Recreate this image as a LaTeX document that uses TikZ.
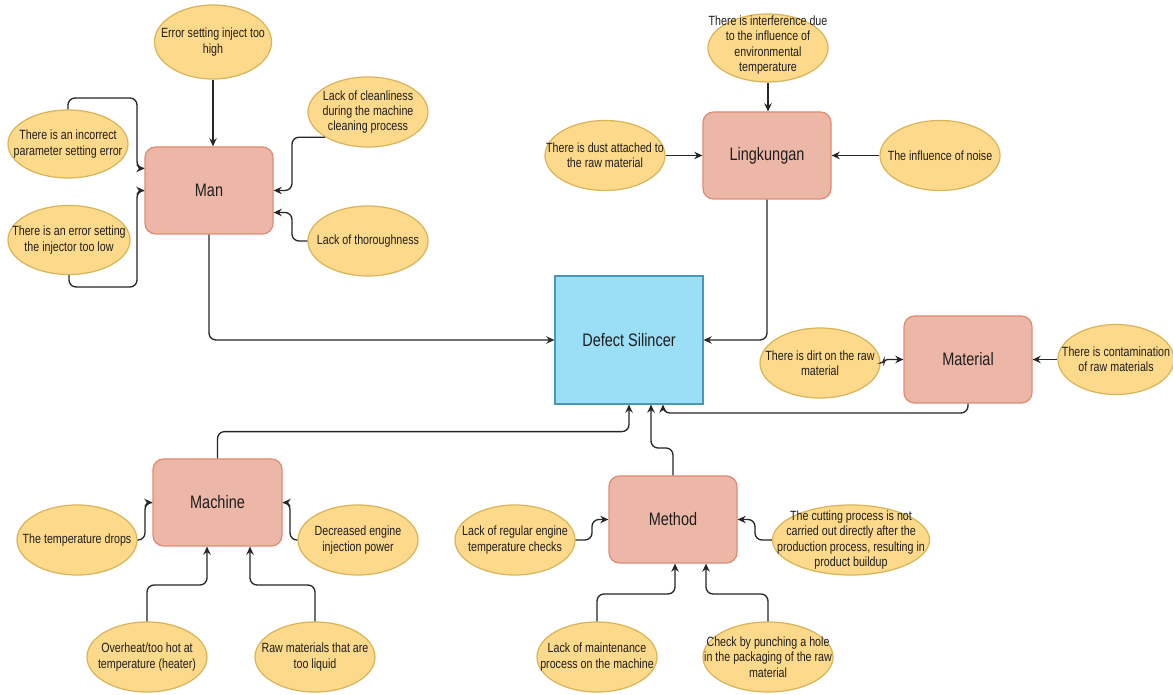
\documentclass[tikz,border=0pt]{standalone}
\usepackage{fontspec}
\setmainfont{Liberation Sans}[FakeStretch=0.8]
\usetikzlibrary{shapes.geometric,arrows.meta}
\newdimen\px \px=0.02cm
\definecolor{boxfill}{HTML}{EDB7A7}
\definecolor{boxdraw}{HTML}{DE8B76}
\definecolor{ellfill}{HTML}{FDD98B}
\definecolor{elldraw}{HTML}{D9B558}
\definecolor{deffill}{HTML}{9ADFF6}
\definecolor{defdraw}{HTML}{4A97BD}
\definecolor{txt}{HTML}{1E1E1E}
\tikzset{
  catbox/.style={draw=boxdraw,fill=boxfill,line width=0.7pt,rounded corners=6pt,
    minimum width=128\px,minimum height=87\px,inner sep=0pt,
    font=\fontsize{10.3}{12}\selectfont,text=txt},
  defbox/.style={draw=defdraw,fill=deffill,line width=0.7pt,
    minimum width=148\px,minimum height=128\px,inner sep=0pt,
    font=\fontsize{10.3}{12}\selectfont,text=txt},
  ell/.style={ellipse,draw=elldraw,fill=ellfill,line width=0.7pt,
    minimum width=120\px,minimum height=70\px,inner sep=0pt},
  etxt/.style={align=center,inner sep=0pt,text=txt,
    font=\fontsize{7.6}{8.7}\selectfont},
  arr/.style={draw=black!85,line width=0.75pt,rounded corners=4pt,
    -{Stealth[length=4.6pt,width=4.2pt]}}
}
\begin{document}
\begin{tikzpicture}[x=0.02cm,y=-0.02cm]
\useasboundingbox[fill=white] (0,0) rectangle (1173,695);

% category boxes
\node[defbox] (def) at (629,340) {Defect Silincer};
\node[catbox] (man) at (209,190.5) {Man};
\node[catbox] (ling) at (767,155.5) {Lingkungan};
\node[catbox] (mat) at (968,359.5) {Material};
\node[catbox,minimum width=129\px] (mach) at (217.5,502.5) {Machine};
\node[catbox] (meth) at (673,519.5) {Method};

% Man causes
\node[ell,minimum width=117\px,minimum height=74\px] (high) at (213,42) {};
\node[etxt] (thigh) at (high) {Error setting inject too\\high};
\node[ell,minimum height=68\px] (incor) at (68,144) {};
\node[etxt] (tincor) at (incor) {There is an incorrect\\parameter setting error};
\node[ell,minimum width=122\px,minimum height=69\px] (low) at (69,240) {};
\node[etxt] (tlow) at (low) {There is an error setting\\the injector too low};
\node[ell] (clean) at (368,112) {};
\node[etxt] (tclean) at (clean) {Lack of cleanliness\\during the machine\\cleaning process};
\node[ell] (thor) at (368,241) {};
\node[etxt] (tthor) at (thor) {Lack of thoroughness};

% Lingkungan causes
\node[ell,minimum height=68\px] (env) at (768,48) {};
\node[etxt] (tenv) at (768,45) {There is interference due\\to the influence of\\environmental\\temperature};
\node[ell] (dust) at (605,155.5) {};
\node[etxt] (tdust) at (dust) {There is dust attached to\\the raw material};
\node[ell] (noise) at (940,155.5) {};
\node[etxt] (tnoise) at (noise) {The influence of noise};

% Material causes
\node[ell] (dirt) at (820,363) {};
\node[etxt] (tdirt) at (dirt) {There is dirt on the raw\\material};
\node[ell,minimum width=116\px] (cont) at (1116,359.5) {};
\node[etxt] (tcont) at (cont) {There is contamination\\of raw materials};

% Machine causes
\node[ell] (drop) at (77,540) {};
\node[etxt] (tdrop) at (drop) {The temperature drops};
\node[ell] (decr) at (358,540) {};
\node[etxt] (tdecr) at (decr) {Decreased engine\\injection power};
\node[ell] (over) at (147,657) {};
\node[etxt] (tover) at (over) {Overheat/too hot at\\temperature (heater)};
\node[ell] (liq) at (315,657) {};
\node[etxt] (tliq) at (liq) {Raw materials that are\\too liquid};

% Method causes
\node[ell] (reg) at (515,540) {};
\node[etxt] (treg) at (reg) {Lack of regular engine\\temperature checks};
\node[ell,minimum width=157\px] (cut) at (851,540) {};
\node[etxt] (tcut) at (cut) {The cutting process is not\\carried out directly after the\\production process, resulting in\\product buildup};
\node[ell] (maint) at (597,657) {};
\node[etxt] (tmaint) at (maint) {Lack of maintenance\\process on the machine};
\node[ell,minimum width=130\px] (check) at (768,657) {};
\node[etxt] (tcheck) at (check) {Check by punching a hole\\in the packaging of the raw\\material};

% connectors - Man
\draw[arr] (high.south) -- (high.south |- man.north);
\draw[arr] (incor.north) |- (137,98) |- ([yshift=22\px]man.west);
\draw[arr] (low.south) |- (137,287) |- (man.west);
\draw[arr] (clean.south west) -| (292,190.5) -- (man.east);
\draw[arr] (thor.west) -| (292,212.5) -- ([yshift=-22\px]man.east);
\draw[arr] (man.south) |- (def.west);

% Lingkungan
\draw[arr] (env.south) -- (env.south |- ling.north);
\draw[arr] (dust.east) -- (ling.west);
\draw[arr] (noise.west) -- (ling.east);
\draw[arr] (ling.south) |- (def.east);

% Material
\draw[arr,rounded corners=2pt] (dirt.east) -- (884,363) |- (mat.west);
\draw[arr] (cont.west) -- (mat.east);
\draw[arr] (mat.south) |- (663,413) -- ([xshift=34\px]def.south);

% Machine
\draw[arr] (mach.north) |- ([yshift=-27\px]def.south) -- (def.south);
\draw[arr] (drop.east) -| (145,502.5) -- (mach.west);
\draw[arr] (decr.west) -| (290,502.5) -- (mach.east);
\draw[arr] (over.north) |- (207,585) -- ([xshift=-10.5\px]mach.south);
\draw[arr] (liq.north) |- (250,585) -- ([xshift=32.5\px]mach.south);

% Method
\draw[arr] (meth.north) |- (651,448) -- ([xshift=22\px]def.south);
\draw[arr] (reg.east) -| (592,519.5) -- (meth.west);
\draw[arr] (cut.west) -| (755,519.5) -- (meth.east);
\draw[arr] (maint.north) |- (675,594) -- ([xshift=2\px]meth.south);
\draw[arr] (check.north) |- (706,594) -- ([xshift=33\px]meth.south);
\end{tikzpicture}
\end{document}
